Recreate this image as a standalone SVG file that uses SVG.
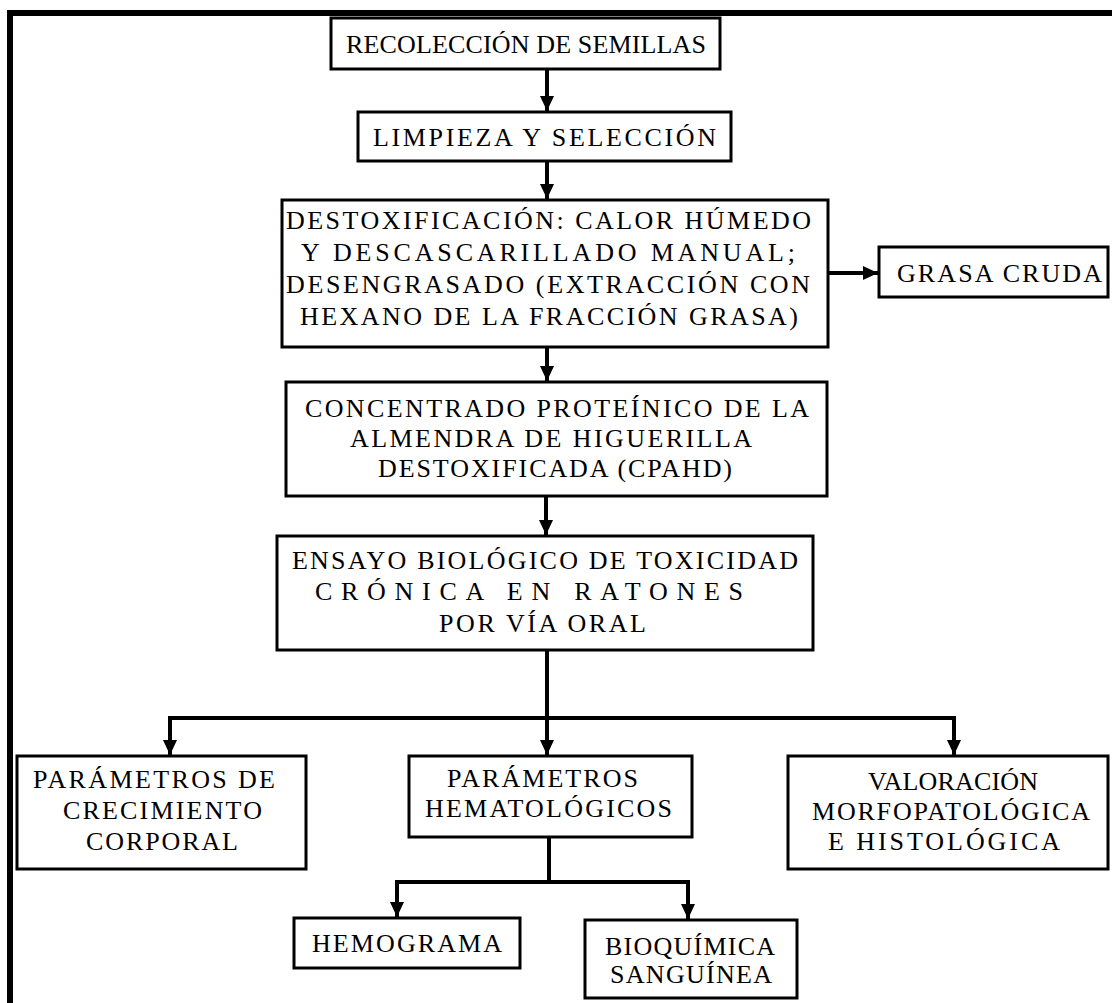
<svg xmlns="http://www.w3.org/2000/svg" width="1112" height="1003" viewBox="0 0 1112 1003">
<style>
.box{fill:#fff;stroke:#000;stroke-width:3}
.t{font-family:'Liberation Serif','DejaVu Serif',serif;font-size:26px;fill:#000}
.c{fill:none;stroke:#000;stroke-width:4}
</style>
<defs>
<marker id="ah" markerUnits="userSpaceOnUse" markerWidth="16" markerHeight="16" refX="15" refY="8" orient="auto">
<path d="M0,1 L15,8 L0,15 Z" fill="#000"/>
</marker>
</defs>
<rect x="0" y="0" width="1112" height="1003" fill="#fff"/>
<rect x="10" y="13" width="1112" height="1010" fill="none" stroke="#000" stroke-width="6"/>
<g id="connectors">
<line class="c" x1="547" y1="69" x2="547" y2="111" marker-end="url(#ah)"/>
<line class="c" x1="547" y1="161" x2="547" y2="199" marker-end="url(#ah)"/>
<line class="c" x1="828" y1="273" x2="878" y2="273" marker-end="url(#ah)"/>
<line class="c" x1="547" y1="347" x2="547" y2="381" marker-end="url(#ah)"/>
<line class="c" x1="546" y1="496" x2="546" y2="535" marker-end="url(#ah)"/>
<line class="c" x1="547" y1="650" x2="547" y2="718"/>
<polyline class="c" points="170,755 170,718 954,718 954,755" marker-end="url(#ah)"/>
<line class="c" x1="170" y1="718" x2="170" y2="755" marker-end="url(#ah)"/>
<line class="c" x1="547" y1="718" x2="547" y2="755" marker-end="url(#ah)"/>
<line class="c" x1="549" y1="837" x2="549" y2="882"/>
<polyline class="c" points="397,917 397,882 688,882 688,919" marker-end="url(#ah)"/>
<line class="c" x1="397" y1="882" x2="397" y2="917" marker-end="url(#ah)"/>
</g>
<g id="n1"><rect class="box" x="331" y="18" width="389" height="51"/>
<text class="t" x="346" y="53" textLength="360" lengthAdjust="spacing">RECOLECCIÓN DE SEMILLAS</text></g>
<g id="n2"><rect class="box" x="358" y="112" width="373" height="49"/>
<text class="t" x="373" y="146" textLength="343" lengthAdjust="spacing">LIMPIEZA Y SELECCIÓN</text></g>
<g id="n3"><rect class="box" x="282" y="200" width="546" height="147"/>
<text class="t" x="286" y="229" textLength="525" lengthAdjust="spacing">DESTOXIFICACIÓN: CALOR HÚMEDO</text>
<text class="t" x="301" y="261" textLength="494" lengthAdjust="spacing">Y DESCASCARILLADO MANUAL;</text>
<text class="t" x="286" y="293" textLength="524" lengthAdjust="spacing">DESENGRASADO (EXTRACCIÓN CON</text>
<text class="t" x="300" y="325" textLength="498" lengthAdjust="spacing">HEXANO DE LA FRACCIÓN GRASA)</text></g>
<g id="n3b"><rect class="box" x="879" y="247" width="229" height="50"/>
<text class="t" x="897" y="282" textLength="205" lengthAdjust="spacing">GRASA CRUDA</text></g>
<g id="n4"><rect class="box" x="286" y="382" width="541" height="114"/>
<text class="t" x="305" y="417" textLength="504" lengthAdjust="spacing">CONCENTRADO PROTEÍNICO DE LA</text>
<text class="t" x="350" y="447" textLength="402" lengthAdjust="spacing">ALMENDRA DE HIGUERILLA</text>
<text class="t" x="378" y="477" textLength="354" lengthAdjust="spacing">DESTOXIFICADA (CPAHD)</text></g>
<g id="n5"><rect class="box" x="277" y="536" width="536" height="114"/>
<text class="t" x="292" y="569" textLength="506" lengthAdjust="spacing">ENSAYO BIOLÓGICO DE TOXICIDAD</text>
<text class="t" x="315" y="600" textLength="428" lengthAdjust="spacing">CRÓNICA EN RATONES</text>
<text class="t" x="439" y="632" textLength="207" lengthAdjust="spacing">POR VÍA ORAL</text></g>
<g id="n6"><rect class="box" x="17" y="756" width="289" height="113"/>
<text class="t" x="33" y="788" textLength="242" lengthAdjust="spacing">PARÁMETROS DE</text>
<text class="t" x="63" y="819" textLength="199" lengthAdjust="spacing">CRECIMIENTO</text>
<text class="t" x="86" y="850" textLength="152" lengthAdjust="spacing">CORPORAL</text></g>
<g id="n7"><rect class="box" x="409" y="756" width="283" height="81"/>
<text class="t" x="447" y="787" textLength="191" lengthAdjust="spacing">PARÁMETROS</text>
<text class="t" x="425" y="817" textLength="247" lengthAdjust="spacing">HEMATOLÓGICOS</text></g>
<g id="n8"><rect class="box" x="788" y="756" width="320" height="113"/>
<text class="t" x="868" y="790" textLength="170" lengthAdjust="spacing">VALORACIÓN</text>
<text class="t" x="812" y="820" textLength="278" lengthAdjust="spacing">MORFOPATOLÓGICA</text>
<text class="t" x="828" y="850" textLength="232" lengthAdjust="spacing">E HISTOLÓGICA</text></g>
<g id="n9"><rect class="box" x="294" y="918" width="226" height="50"/>
<text class="t" x="312" y="952" textLength="190" lengthAdjust="spacing">HEMOGRAMA</text></g>
<g id="n10"><rect class="box" x="585" y="920" width="212" height="78"/>
<text class="t" x="605" y="955" textLength="170" lengthAdjust="spacing">BIOQUÍMICA</text>
<text class="t" x="610" y="983" textLength="162" lengthAdjust="spacing">SANGUÍNEA</text></g>
</svg>
